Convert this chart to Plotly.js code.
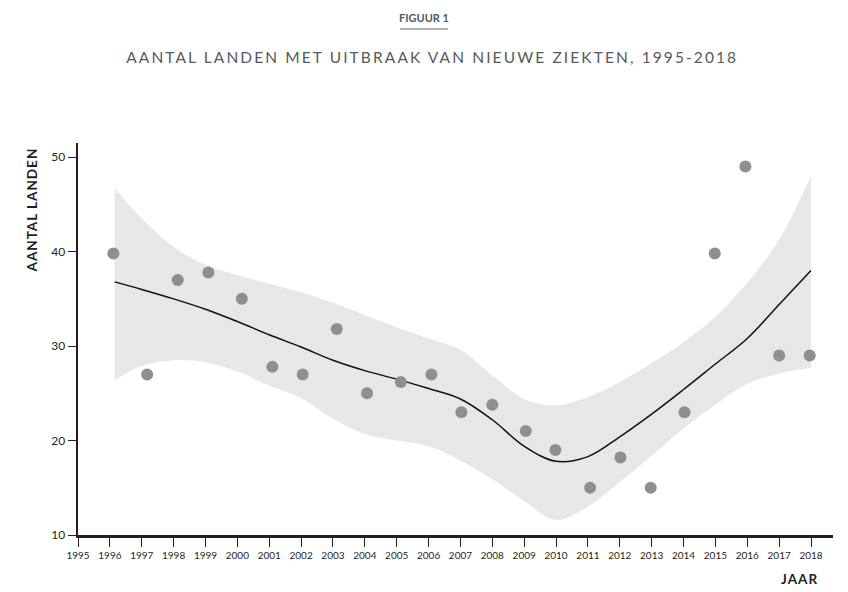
<!DOCTYPE html>
<html>
<head>
<meta charset="utf-8">
<script src="https://cdn.plot.ly/plotly-3.0.1.min.js"></script>
<style>
html,body{margin:0;padding:0;background:#fff;}
#chart{width:848px;height:592px;}
#chart .annotation[data-index="1"] text.annotation-text{letter-spacing:2.1px;}
#chart .annotation[data-index="2"] text.annotation-text{letter-spacing:1px;}
#chart .annotation[data-index="3"] text.annotation-text{letter-spacing:1px;}
</style>
</head>
<body>
<div id="chart"></div>
<script>
// Observed points (year position as drawn, number of countries)
const pointYears = [1996.11, 1997.17, 1998.13, 1999.09, 2000.14, 2001.10, 2002.05, 2003.12, 2004.07, 2005.13, 2006.09, 2007.03, 2008.00, 2009.05, 2009.98, 2011.07, 2012.02, 2012.97, 2014.03, 2014.98, 2015.94, 2017.00, 2017.96];
const pointValues = [39.8, 27, 37, 37.8, 35, 27.8, 27, 31.8, 25, 26.2, 27, 23, 23.8, 21, 19, 15, 18.2, 15, 23, 39.8, 49, 29, 29];

// Smoothed trend and confidence band
const fitYears = [1996.15, 1997, 1998, 1999, 2000, 2001, 2002, 2003, 2004, 2005, 2006, 2007, 2008, 2009, 2010, 2011, 2012, 2013, 2014, 2015, 2016, 2017, 2018];
const fitValues = [36.8, 36.0, 35.0, 33.9, 32.6, 31.2, 29.9, 28.5, 27.4, 26.5, 25.5, 24.4, 22.2, 19.4, 17.8, 18.3, 20.4, 22.8, 25.4, 28.1, 30.8, 34.4, 38.0];
const upperValues = [46.7, 43.5, 40.5, 38.6, 37.5, 36.6, 35.7, 34.6, 33.3, 32.0, 30.8, 29.6, 26.9, 24.4, 23.7, 24.6, 26.2, 28.2, 30.4, 33.1, 36.7, 41.3, 48.0];
const lowerValues = [26.4, 27.9, 28.5, 28.3, 27.3, 25.8, 24.5, 22.3, 20.7, 20.0, 19.4, 17.9, 15.9, 13.6, 11.6, 13.0, 15.6, 18.4, 21.3, 23.8, 26.0, 27.1, 27.7];

const xTickYears = [1995,1996,1997,1998,1999,2000,2001,2002,2003,2004,2005,2006,2007,2008,2009,2010,2011,2012,2013,2014,2015,2016,2017,2018];
const yTicks = [10, 20, 30, 40, 50];

const FONT = 'Lato, "Open Sans", sans-serif';
const DARK = '#231f20';

const traces = [
  {x: fitYears, y: lowerValues, mode: 'lines', line: {width: 0, shape: 'spline', smoothing: 1}, hoverinfo: 'skip', showlegend: false},
  {x: fitYears, y: upperValues, mode: 'lines', line: {width: 0, shape: 'spline', smoothing: 1}, fill: 'tonexty', fillcolor: '#e6e7e8', hoverinfo: 'skip', showlegend: false},
  {x: fitYears, y: fitValues, mode: 'lines', line: {color: '#111', width: 1.5, shape: 'spline', smoothing: 1}, showlegend: false},
  {x: pointYears, y: pointValues, mode: 'markers', marker: {color: '#8e8f92', size: 12}, showlegend: false}
];

const plotW = 848 - 78 - 15, plotH = 592 - 143 - 57;

const layout = {
  width: 848, height: 592,
  margin: {l: 78, r: 15, t: 143, b: 57},
  paper_bgcolor: '#fff', plot_bgcolor: '#fff',
  font: {family: FONT, color: DARK},
  showlegend: false,
  xaxis: {
    range: [1995, 2018.69], tickvals: xTickYears, ticktext: xTickYears.map(String),
    showgrid: false, zeroline: false, showline: true, linecolor: DARK, linewidth: 2.5,
    ticks: 'outside', ticklen: 9, tickwidth: 1, tickcolor: DARK,
    tickfont: {family: FONT, size: 10, color: DARK}, tickangle: 0
  },
  yaxis: {
    range: [10, 51.5], tickvals: yTicks,
    showgrid: false, zeroline: false, showline: true, linecolor: DARK, linewidth: 2.5,
    ticks: 'outside', ticklen: 8, tickwidth: 1, tickcolor: DARK,
    tickfont: {family: FONT, size: 12, color: DARK}
  },
  annotations: [
    {text: '<b>FIGUUR 1</b>', xref: 'paper', yref: 'paper', x: 0.5, y: 1, xanchor: 'center', yanchor: 'middle',
     xshift: -31.5, yshift: 126, showarrow: false, font: {family: FONT, size: 11, color: '#58595b'}},
    {text: 'AANTAL LANDEN MET UITBRAAK VAN NIEUWE ZIEKTEN, 1995-2018', xref: 'paper', yref: 'paper', x: 0.5, y: 1,
     xanchor: 'center', yanchor: 'middle', yshift: 86, xshift: -23.5, showarrow: false, font: {family: FONT, size: 15.5, color: '#58595b'}},
    {text: '<b>AANTAL LANDEN</b>', xref: 'paper', yref: 'paper', x: 0, y: 1, xanchor: 'center', yanchor: 'middle',
     xshift: -46, yshift: -67, textangle: -90, showarrow: false, font: {family: FONT, size: 13.5, color: DARK}},
    {text: '<b>JAAR</b>', xref: 'paper', yref: 'paper', x: 1, y: 0, xanchor: 'center', yanchor: 'middle',
     xshift: -34, yshift: -44, showarrow: false, font: {family: FONT, size: 13.5, color: DARK}}
  ],
  shapes: [{type: 'line', xref: 'paper', yref: 'paper',
    x0: (400 - 78) / plotW, x1: (448 - 78) / plotW,
    y0: (535 - 29) / plotH, y1: (535 - 29) / plotH,
    line: {color: '#9a9a9a', width: 1.5}}]
};

Plotly.newPlot('chart', traces, layout, {displayModeBar: false, staticPlot: true});
</script>
</body>
</html>
